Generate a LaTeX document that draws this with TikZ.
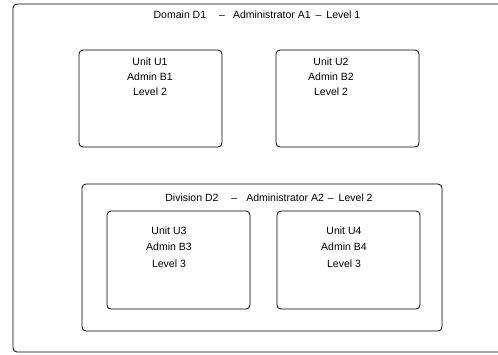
\documentclass[tikz,border=0pt]{standalone}
\usepackage{fontspec}
\setmainfont{Liberation Sans}
\usetikzlibrary{positioning}

\begin{document}
\begin{tikzpicture}[x=1pt,y=-1pt,
  box/.style={draw, line width=0.8pt, rounded corners=4pt, inner sep=0pt},
  lbl/.style={font=\fontsize{10.5}{15}\selectfont, align=center, inner sep=0pt}]
\clip (0,0) rectangle (498,354);
% outer domain
\node[box, minimum width=497pt, minimum height=348pt] (d1) at (261.5,178) {};
\node[lbl] (d1t) at (257,15) {Domain D1\hspace{13pt}--\hspace{8pt}Administrator A1\hspace{5pt}--\hspace{5pt}Level 1};

% units of level 2
\node[box, minimum width=143pt, minimum height=97pt] (u1) at (150.5,98.5) {};
\node[box, minimum width=143pt, minimum height=97pt] (u2) at (347.5,98.5) {};
\node[lbl] (u1t) at (150,77) {Unit U1\\Admin B1\\Level 2};
\node[lbl] (u2t) at (331,77) {Unit U2\\Admin B2\\Level 2};

% division
\node[box, minimum width=360pt, minimum height=147pt] (d2) at (262,257.5) {};
\node[lbl] (d2t) at (269,198) {Division D2\hspace{13pt}--\hspace{9pt}Administrator A2\hspace{4pt}--\hspace{5pt}Level 2};

% units of level 3
\node[box, minimum width=143pt, minimum height=98pt] (u3) at (178.5,260) {};
\node[box, minimum width=143pt, minimum height=98pt] (u4) at (348.5,260) {};
\node[lbl, font=\fontsize{10.5}{16.5}\selectfont] (u3t) at (169,247) {Unit U3\\Admin B3\\Level 3};
\node[lbl, font=\fontsize{10.5}{16.5}\selectfont] (u4t) at (344,247) {Unit U4\\Admin B4\\Level 3};
\end{tikzpicture}
\end{document}
